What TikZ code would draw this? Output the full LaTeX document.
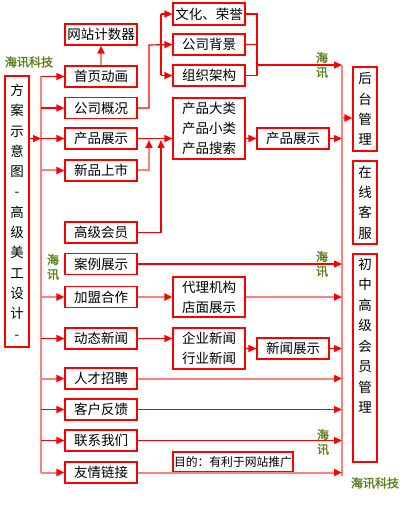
\documentclass[tikz,border=0pt]{standalone}
\usepackage{fontspec}
\newfontfamily\cjk{Noto Sans CJK SC}
\newfontfamily\cjkb[FakeBold=2]{Noto Sans CJK SC}
\usetikzlibrary{arrows.meta}
\definecolor{hred}{RGB}{255,0,0}
\definecolor{hpink}{RGB}{255,128,128}
\definecolor{holive}{RGB}{96,128,32}
\begin{document}
\begin{tikzpicture}[x=1pt,y=-1pt,
 box/.style={draw=hred,line width=1.2pt,inner sep=0pt,minimum width=72pt,minimum height=21pt,font=\cjk\fontsize{13.5}{20}\selectfont,align=center},
 vbox/.style={draw=hred,line width=1.2pt,inner sep=0pt,minimum width=24pt,font=\cjk\fontsize{13.5}{20.3}\selectfont,align=center},
 rl/.style={draw=hred,line width=1.2pt},
 pl/.style={draw=hpink,line width=2pt},
 arr/.style={-{Triangle[length=8pt,width=7pt,color=hred]}},
 logo/.style={font=\cjkb\fontsize{12}{14.5}\selectfont,text=holive,inner sep=0pt,align=center},
 plain/.style={inner sep=0pt,font=\cjk\fontsize{13.5}{20.5}\selectfont,align=center}]
\useasboundingbox (0,0) rectangle (418,518);
% left column boxes
\node[vbox,minimum height=271pt] (fa) at (17,211.5) {方\\案\\示\\意\\图\\-\\高\\级\\美\\工\\设\\计\\-};
\node[box] (jsq) at (101,34.5) {网站计数器};
\node[box] (sydh) at (101,76.5) {首页动画};
\node[box] (gsgk) at (101,108) {公司概况};
\node[box] (cpzs) at (101,138.5) {产品展示};
\node[box] (xpss) at (101,170.5) {新品上市};
\node[box] (gjhy) at (101,232.5) {高级会员};
\node[box] (alzs) at (101,264) {案例展示};
\node[box] (jmhz) at (101,297) {加盟合作};
\node[box] (dtxw) at (101,338.5) {动态新闻};
\node[box] (rczp) at (101,378.5) {人才招聘};
\node[box] (khfk) at (101,409.5) {客户反馈};
\node[box] (lxwm) at (101,440.5) {联系我们};
\node[box] (yqlj) at (101,472.5) {友情链接};
% second column
\node[box,minimum height=22pt] (whry) at (209,14) {文化、荣誉};
\node[box] (gsbj) at (209,44.5) {公司背景};
\node[box] (zzjg) at (209,75.5) {组织架构};
\node[box,minimum height=61pt] (cpdl) at (209,128.5) {产品大类\\产品小类\\产品搜索};
\node[box,minimum height=40pt] (dljg) at (209,297) {代理机构\\店面展示};
\node[box,minimum height=41pt] (qyxw) at (209,348.5) {企业新闻\\行业新闻};
\node[box,minimum width=120pt,minimum height=20pt,font=\cjk\fontsize{11.8}{14}\selectfont] (mudi) at (233,462) {目的：有利于网站推广};
% third column
\node[box] (cpzs2) at (293,138.5) {产品展示};
\node[box] (xwzs) at (293,348.5) {新闻展示};
% right column
\node[vbox,minimum height=84pt] (htgl) at (365,109) {后\\台\\管\\理};
\node[vbox,minimum height=83pt] (zxkf) at (365,202.5) {在\\线\\客\\服};
\node[vbox,minimum height=208pt] (cjhy) at (365,358) {};
\node[plain] (cjhyt) at (365,335.5) {初\\中\\高\\级\\会\\员\\管\\理};
% logos
\node[logo] (l1) at (29,62) {海讯科技};
\node[logo] (l2) at (322,65) {海\\讯};
\node[logo] (l3) at (53,267) {海\\讯};
\node[logo] (l4) at (322,264) {海\\讯};
\node[logo] (l5) at (323,442) {海\\讯};
\node[logo] (l6) at (375,483) {海讯科技};
% coordinates
\coordinate (lt) at (41,76.5);
\coordinate (lb) at (41,472.5);
\coordinate (rt) at (342,65);
\coordinate (rb) at (342,476);
\coordinate (rh) at (342,118);
\coordinate (br) at (257,65);
\coordinate (bl) at (161,14);
\coordinate (gk) at (149,45);
\coordinate (ua) at (149,140);
\coordinate (ub) at (161,140);
% left trunk
\draw[pl] (lt) -- (lb);
\draw[rl,arr] (fa.east |- cpzs) -- (lt |- cpzs);
\draw[rl,arr] (lt) -- (sydh.west);
\draw[rl,arr] (lt |- gsgk) -- (gsgk.west);
\draw[rl,arr] (lt |- cpzs) -- (cpzs.west);
\draw[pl,arr] (lt |- xpss) -- (xpss.west);
\draw[pl,arr] (lt |- jmhz) -- (jmhz.west);
\draw[rl,arr] (lt |- dtxw) -- (dtxw.west);
\draw[pl,arr] (lt |- rczp) -- (rczp.west);
\draw[rl,arr] (lt |- khfk) -- (khfk.west);
\draw[rl,arr] (lt |- lxwm) -- (lxwm.west);
\draw[pl,arr] (lb) -- (yqlj.west);
\draw[pl,arr] (sydh.north) -- (jsq.south);
% company profile group
\draw[rl,arr] (gsgk.east) -| (gk) -- (gsbj.west);
\draw[rl] (bl) -- (bl |- zzjg);
\draw[rl,arr] (bl) -- (whry.west);
\draw[rl,arr] (bl |- zzjg) -- (zzjg.west);
\draw[rl] (whry.east) -- (whry.east -| br) -- (zzjg.east -| br) -- (zzjg.east);
\draw[rl] (gsbj.east) -- (gsbj.east -| br);
\draw[rl,arr] (br) -- (rt);
% right trunk
\draw[pl] (rt) -- (rb);
\draw[pl,arr] (rh) -- (rh -| htgl.west);
% products
\draw[rl,arr] (cpzs.east) -- (cpzs.east -| cpdl.west);
\draw[rl,arr] (cpzs2.west -| cpdl.east) -- (cpzs2.west);
\draw[rl,arr] (cpzs2.east) -- (cpzs2.east -| rt);
\draw[pl,arr] (xpss.east) -| (ua);
\draw[rl,arr] (gjhy.east) -| (ub);
% others
\draw[rl,arr] (alzs.east) -- (alzs.east -| rt);
\draw[pl,arr] (jmhz.east) -- (jmhz.east -| dljg.west);
\draw[pl,arr] (dljg.east) -- (dljg.east -| rt);
\draw[rl,arr] (dtxw.east) -- (dtxw.east -| qyxw.west);
\draw[rl,arr] (xwzs.west -| qyxw.east) -- (xwzs.west);
\draw[rl,arr] (xwzs.east) -- (xwzs.east -| rt);
\draw[pl,arr] (rczp.east) -- (rczp.east -| rt);
\draw[rl,arr] (khfk.east) -- (khfk.east -| rt);
\draw[rl,arr] (lxwm.east) -- (lxwm.east -| rt);
\draw[pl,arr] (yqlj.east) -- (yqlj.east -| rt);
\end{tikzpicture}
\end{document}
